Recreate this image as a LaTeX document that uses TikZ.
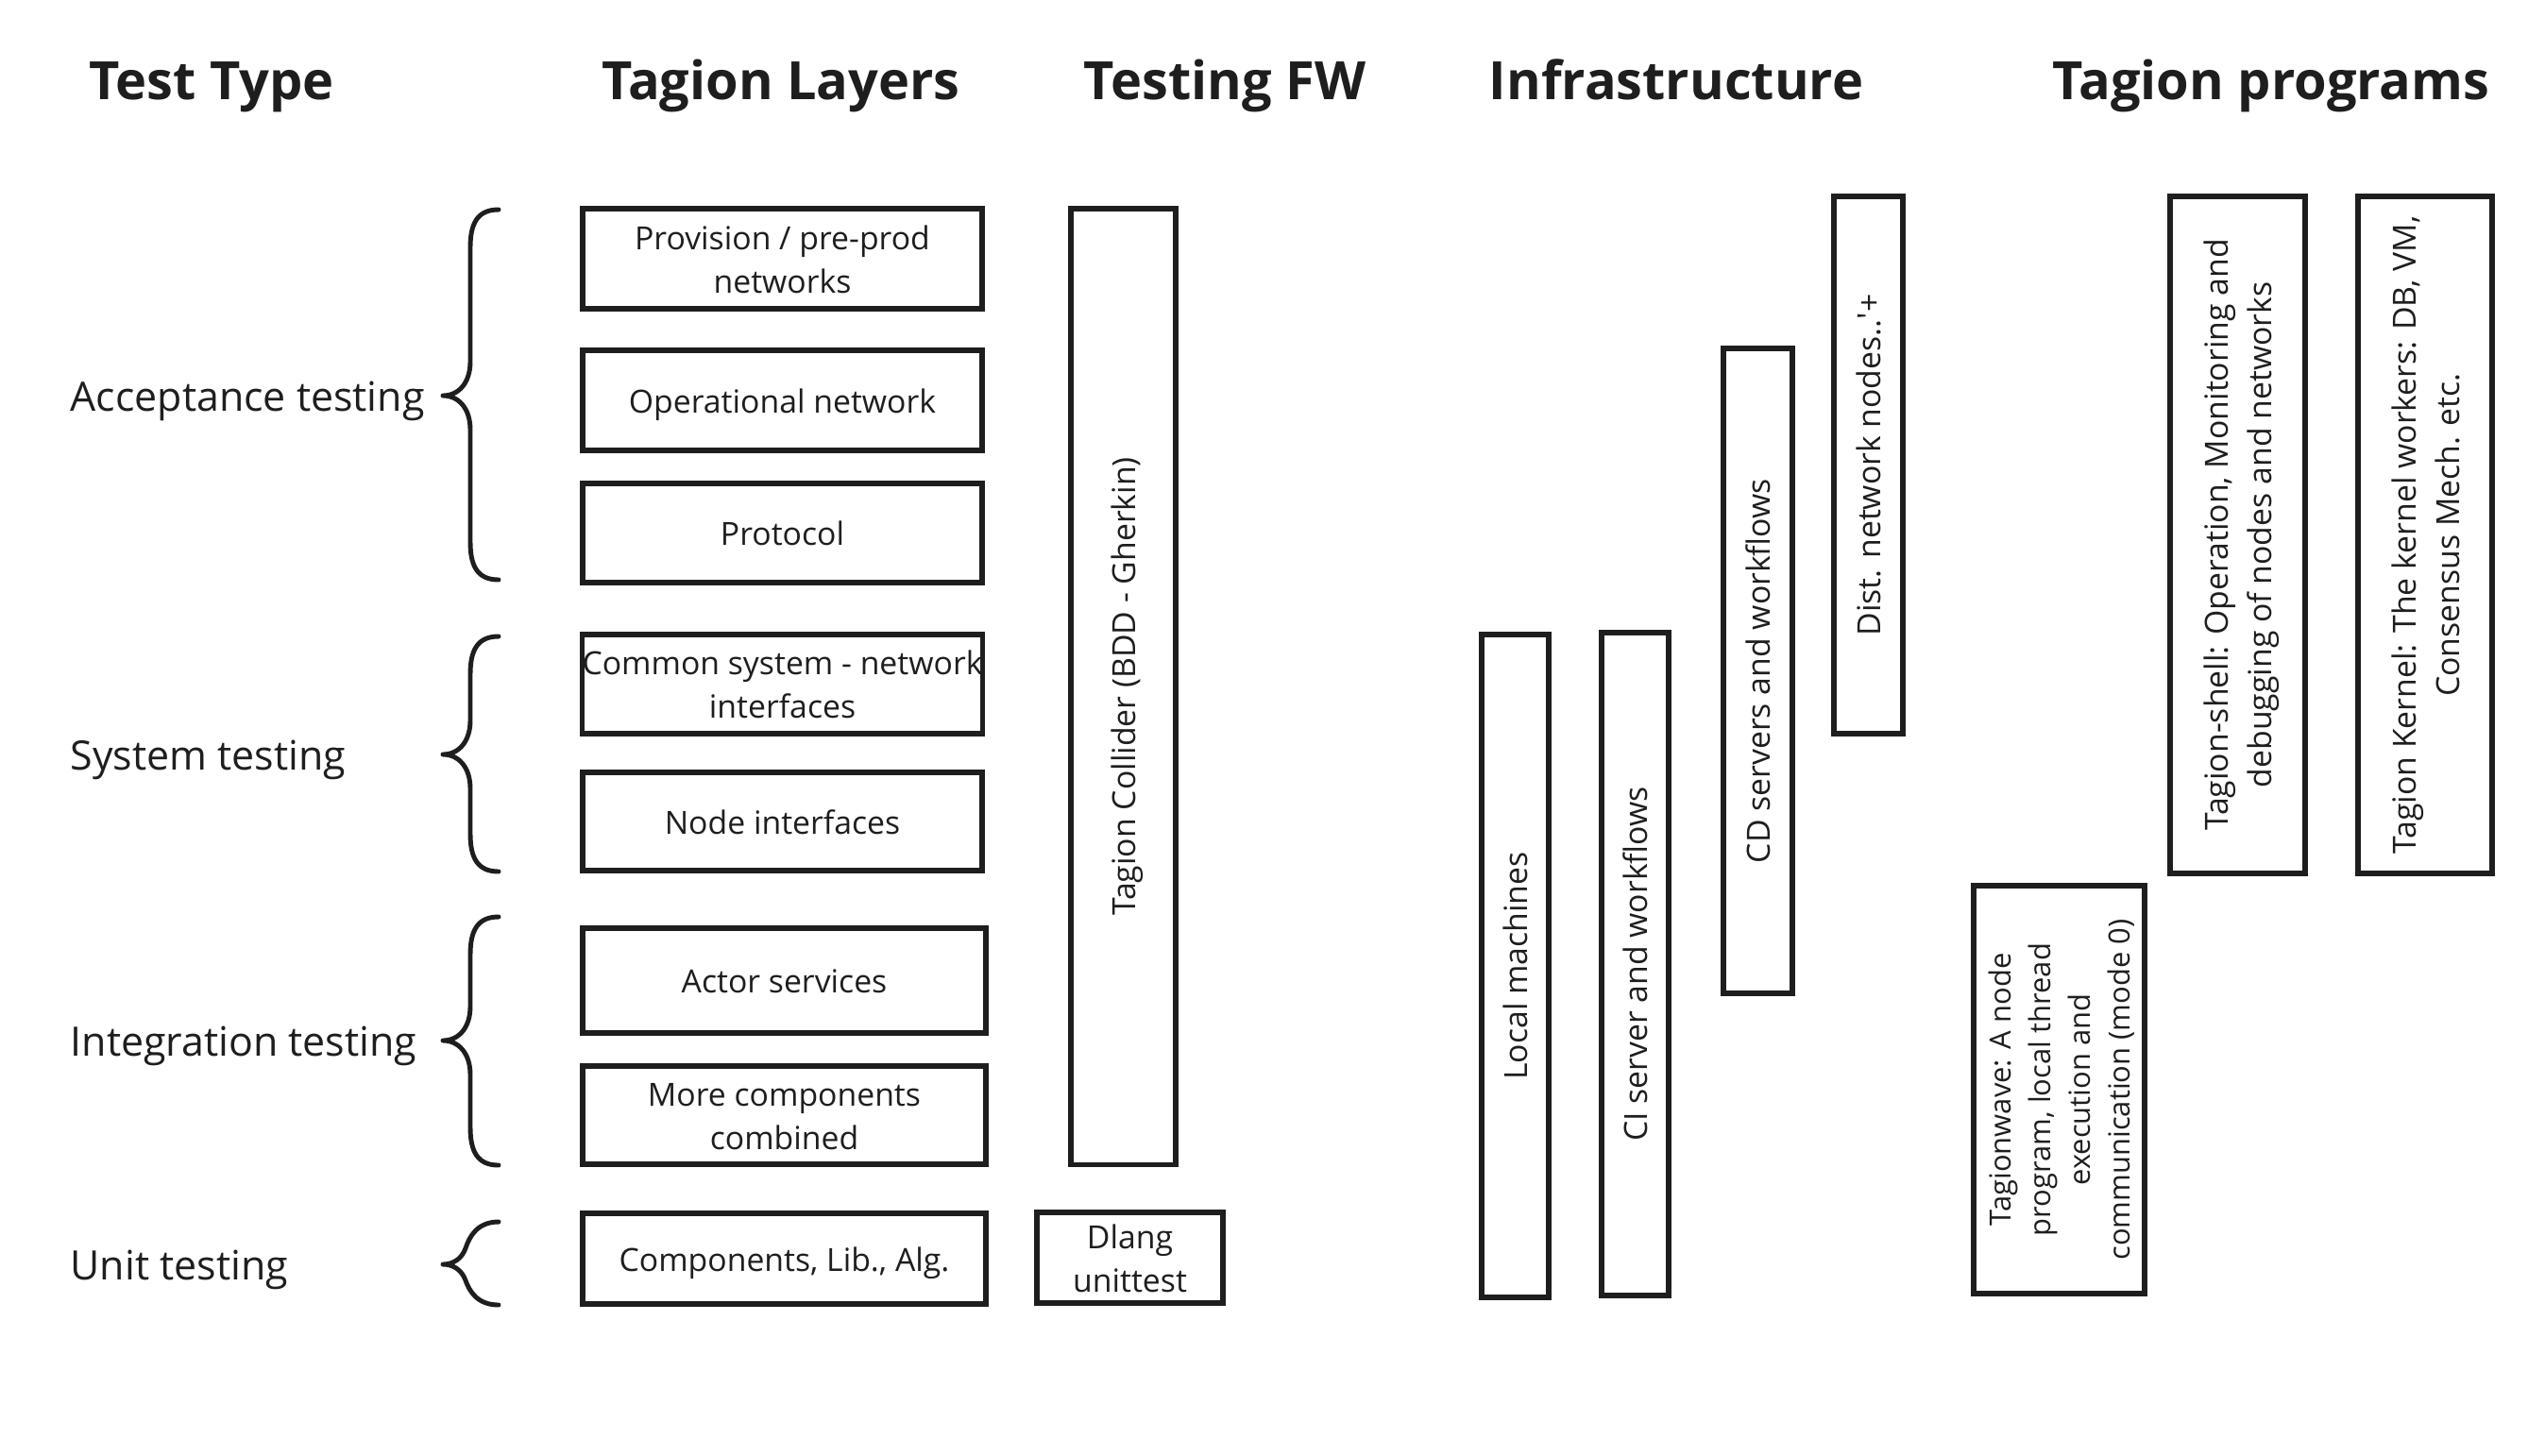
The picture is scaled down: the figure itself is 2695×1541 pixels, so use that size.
\documentclass[tikz,border=0pt]{standalone}
\usepackage{fontspec}
\setmainfont{Open Sans}
\definecolor{ink}{HTML}{1E1E1E}
% line box of the font: ascent 1.069em, descent 0.293em
\newcommand{\lb}{\rule[-0.293em]{0pt}{1.362em}}
\tikzset{
  layer/.style={draw=ink,line width=1.6pt,text=ink,align=center,inner sep=0pt,
    font=\fontsize{9.6}{13.1}\selectfont},
  upright/.style={layer,rotate=90},
  colhead/.style={text=ink,anchor=base,font=\fontsize{15.9}{19}\selectfont\bfseries},
  testlabel/.style={text=ink,anchor=base west,inner sep=0pt,font=\fontsize{12.2}{14}\selectfont},
  curly/.style={draw=ink,line width=1.4pt,line cap=round,line join=round}
}
\begin{document}
\begin{tikzpicture}[x=0.01cm,y=-0.01cm]
\useasboundingbox (0,0) rectangle (2695,1541);
% column heads
\foreach \n/\x/\t in {type/224/Test Type,layers/827/Tagion Layers,fw/1297/Testing FW,
  infra/1775/Infrastructure,progs/2405/Tagion programs}
  \node[colhead] (\n) at (\x,105) {\t};
% test types
\foreach \n/\y/\t in {acc/435/Acceptance testing,sys/815/System testing,
  int/1118/Integration testing,unit/1355/Unit testing}
  \node[testlabel] (\n) at (74,\y) {\t};
% braces
\foreach \a/\m/\b in {222/419/614,674/799/923,971/1102/1234}
  \draw[curly] (528,\a) .. controls (506,\a) and (498,\a+14) .. (498,\a+40)
    -- (498,\m-36) .. controls (498,\m-14) and (486,\m) .. (469,\m)
    .. controls (486,\m) and (498,\m+14) .. (498,\m+36)
    -- (498,\b-40) .. controls (498,\b-14) and (506,\b) .. (528,\b);
\draw[curly] (528,1294) .. controls (505,1294) and (497,1310) .. (493,1322)
  .. controls (489,1333) and (480,1339) .. (469,1339)
  .. controls (480,1339) and (489,1345) .. (493,1356)
  .. controls (497,1367) and (505,1382) .. (528,1382);
% tagion layers
\foreach \n/\y/\h/\t in {prov/274/1.06/{\lb Provision / pre-prod\\networks\lb},
  oper/424/1.06/{\lb Operational network},proto/564.5/1.05/{\lb Protocol},
  common/724.5/1.05/{\lb Common system - network\\interfaces\lb},
  nodeif/870/1.04/{\lb Node interfaces}}
  \node[layer,minimum width=4.23cm,minimum height=\h cm] (\n) at (828.5,\y) {\t};
\foreach \n/\y/\h/\t in {actor/1038.5/1.11/{\lb Actor services},
  more/1181/1.04/{\lb More components\\combined\lb},comp/1333/0.96/{\lb Components, Lib., Alg.}}
  \node[layer,minimum width=4.27cm,minimum height=\h cm] (\n) at (830.5,\y) {\t};
% testing framework
\node[upright,minimum width=10.12cm,minimum height=1.11cm] (collider) at (1189.5,727)
  {\lb Tagion Collider (BDD - Gherkin)};
\node[layer,minimum width=1.97cm,minimum height=0.96cm] (dlang) at (1196.5,1332)
  {\lb Dlang\\unittest\lb};
% infrastructure
\node[upright,minimum width=7.02cm,minimum height=0.71cm] (local) at (1604.5,1023)
  {\lb Local machines};
\node[upright,minimum width=7.02cm,minimum height=0.71cm] (ci) at (1731.5,1021)
  {\lb CI server and workflows};
\node[upright,minimum width=6.83cm,minimum height=0.73cm] (cd) at (1861.5,710.5)
  {\lb CD servers and workflows};
\node[upright,minimum width=5.69cm,minimum height=0.73cm] (dist) at (1978.5,492.5)
  {\lb Dist. network nodes..\textquotesingle+};
% tagion programs
\node[upright,minimum width=4.32cm,minimum height=1.81cm,font=\fontsize{8.8}{12}\selectfont]
  (wave) at (2180.5,1154)
  {\lb Tagionwave: A node\\program, local thread\\execution and\\communication (mode 0)\lb};
\node[upright,minimum width=7.17cm,minimum height=1.43cm] (shell) at (2369.5,566.5)
  {\lb Tagion-shell: Operation, Monitoring and\\debugging of nodes and networks\lb};
\node[upright,minimum width=7.17cm,minimum height=1.42cm] (kernel) at (2568,566.5)
  {\lb Tagion Kernel: The kernel workers: DB, VM,\\Consensus Mech. etc.\lb};
\end{tikzpicture}
\end{document}
